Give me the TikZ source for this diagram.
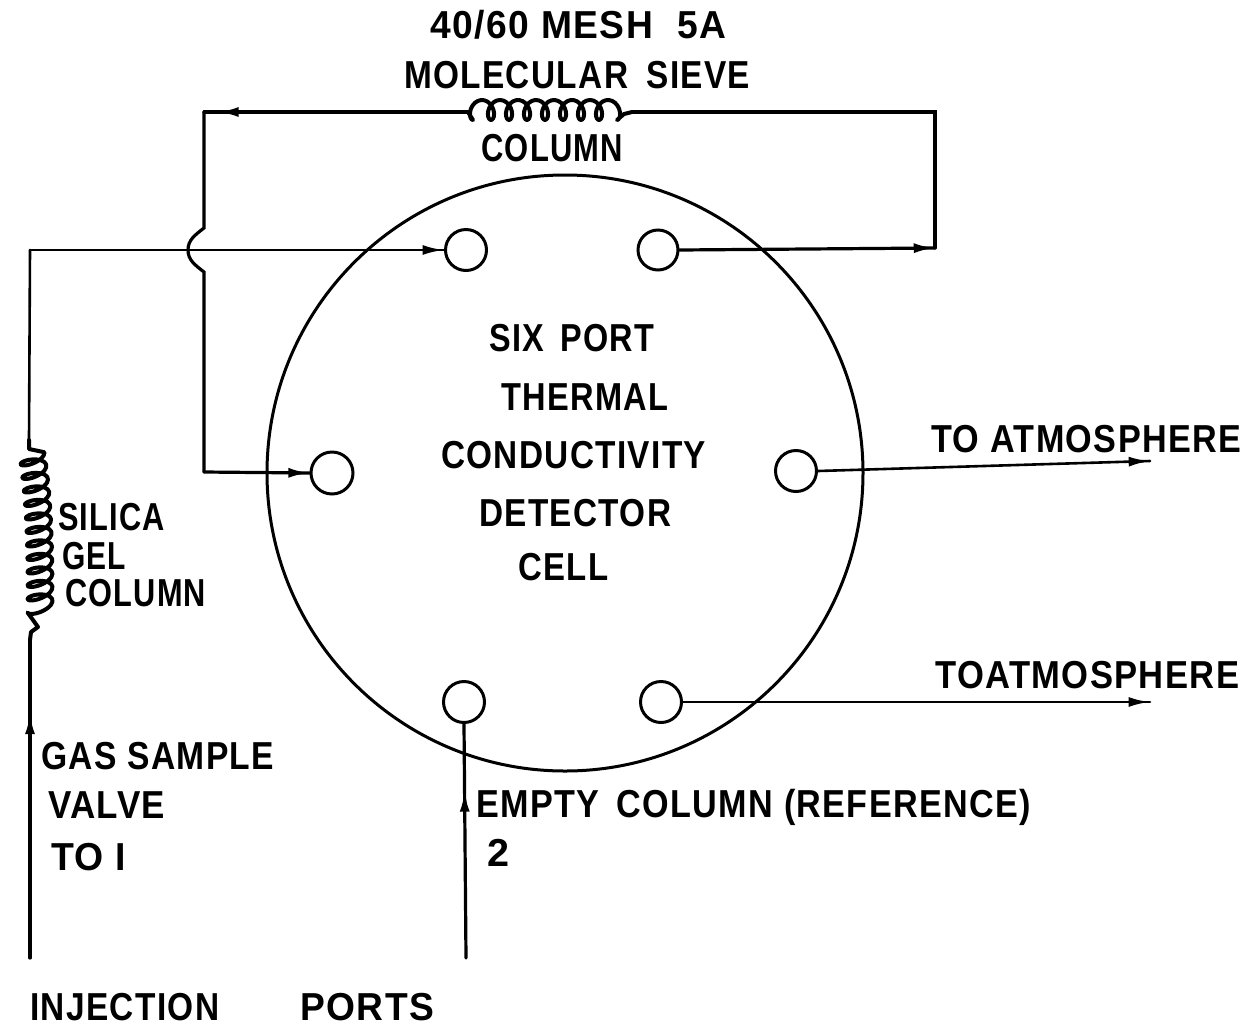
\documentclass[tikz,border=0pt]{standalone}
\usepackage{graphicx}
\usepackage{fontspec}
\setmainfont[LetterSpace=4]{Liberation Sans}
\usetikzlibrary{arrows.meta,decorations.markings}
\tikzset{
  wire/.style={line width=3.2pt,line cap=round,line join=miter,black},
  thinwire/.style={line width=2.6pt,line cap=round,black},
  coilline/.style={line width=4pt,line cap=round,line join=round,black},
  port/.style={circle,draw=black,line width=3pt,inner sep=0pt,minimum size=#1,fill=white},
  lbl/.style={anchor=base west,inner sep=0pt,font=\bfseries\fontsize{39}{39}\selectfont},
  tipat/.style={postaction={decorate},decoration={markings,mark=at position #1 with {\arrow{Latex[length=21pt,width=10pt]}}}}
}
\newcommand{\lblnode}[5]{\node[lbl] (#1) at (#2,#3) {\resizebox{#4pt}{\height}{#5}};}
\begin{document}
\begin{tikzpicture}[x=1pt,y=-1pt]
\useasboundingbox (0,0) rectangle (1253,1029);
\node[circle,draw=black,line width=3pt,inner sep=0pt,minimum size=596pt] (cell) at (565,473) {};
\node[port=41pt] (p1) at (466,250) {};
\node[port=40pt] (p2) at (658,250) {};
\node[port=42pt] (p3) at (332,473) {};
\node[port=41pt] (p4) at (796,471) {};
\node[port=41pt] (p5) at (464,702) {};
\node[port=41pt] (p6) at (661,702) {};
\coordinate (inj1) at (30,958);
\coordinate (coilAb) at (30,640);
\coordinate (coilAt) at (29,440);
\coordinate (c1) at (30,250);
\coordinate (c2) at (935,248);
\coordinate (c3) at (935,112);
\coordinate (coilBr) at (632,112);
\coordinate (coilBl) at (468,112);
\coordinate (c4) at (204,112);
\coordinate (b1) at (204,228);
\coordinate (b2) at (204,272);
\coordinate (c5) at (204,472);
\coordinate (inj2) at (466,958);
\coordinate (atm1) at (1150,461);
\coordinate (atm2) at (1150,702);
% gas sample line and silica coil
\draw[wire,tipat=0.77] (inj1) -- (coilAb);
\draw[coilline] (coilAb) -- (31,632) -- (38,627) -- (33,620)
  -- plot[smooth,samples=190,domain=0:11.5*360,variable=\t]
  ({40-8*pow(\t/(11.5*360),3)-12.5*cos(\t)},{610-\t/360*13.5+2.5*cos(\t)+5.5*sin(\t)})
  -- (29,449) -- (coilAt);
\draw[thinwire] (coilAt) -- (c1);
\draw[thinwire,tipat=0.999] (c1) -- (p1.west);
% molecular sieve loop
\draw[wire,tipat=0.999] (p2.east) -- (c2);
\draw[wire] (c2) -- (c3) -- (coilBr);
\draw[coilline] (coilBr) -- (624,114)
  -- plot[smooth,samples=150,domain=0:8*360,variable=\t]
  ({617-\t/360*18+7*sin(\t)},{110+10*cos(\t)})
  -- (coilBl);
\draw[wire,tipat=0.948] (coilBl) -- (c4);
\draw[wire] (c4) -- (b1) .. controls (195,235) and (188,240) .. (188,250)
  .. controls (188,260) and (195,265) .. (b2) -- (c5);
\draw[wire,tipat=0.999] (c5) -- (p3.west);
% outlets
\draw[thinwire,tipat=0.999] (p4.east) -- (atm1);
\draw[thinwire,tipat=0.999] (p6.east) -- (atm2);
\draw[wire,tipat=0.715] (inj2) -- (p5.south);
% labels
\lblnode{t1}{430}{38}{296}{40/60 MESH\hspace{.65em}5A}
\lblnode{t2}{404}{88}{346}{MOLECULAR\hspace{.55em}SIEVE}
\lblnode{t3}{481}{161}{142}{COLUMN}
\lblnode{t4}{489}{351}{165}{SIX\hspace{.5em}PORT}
\lblnode{t5}{501}{410}{167}{THERMAL}
\lblnode{t6}{441}{468}{265}{CONDUCTIVITY}
\lblnode{t7}{479}{526}{192}{DETECTOR}
\lblnode{t8}{518}{580}{90}{CELL}
\lblnode{t9}{931}{452}{310}{TO ATMOSPHERE}
\lblnode{t10}{935}{688}{304}{TOATMOSPHERE}
\lblnode{t11}{58}{530}{107}{SILICA}
\lblnode{t12}{62}{569}{64}{GEL}
\lblnode{t13}{65}{606}{141}{COLUMN}
\lblnode{t14}{41}{769}{233}{GAS SAMPLE}
\lblnode{t15}{48}{818}{117}{VALVE}
\lblnode{t16}{51}{870}{75}{TO I}
\lblnode{t17}{476}{817}{555}{EMPTY\hspace{.5em}COLUMN (REFERENCE)}
\lblnode{t18}{487}{866}{22}{2}
\lblnode{t19}{30}{1020}{189}{INJECTION}
\lblnode{t20}{300}{1020}{134}{PORTS}
\end{tikzpicture}
\end{document}
